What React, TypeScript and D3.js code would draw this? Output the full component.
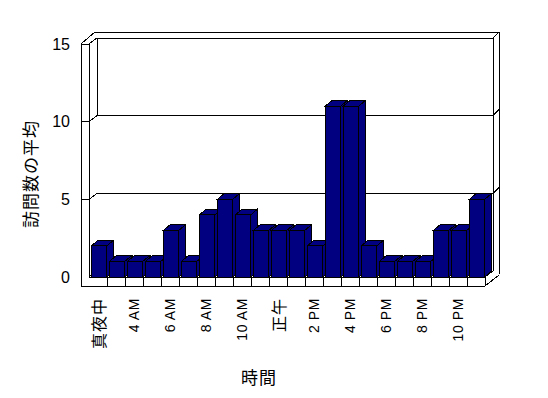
import React from 'react';
import * as d3 from 'd3';

const categories = ['真夜中', '3 AM', '4 AM', '5 AM', '6 AM', '7 AM', '8 AM', '9 AM', '10 AM', '11 AM', '正午', '1 PM', '2 PM', '3 PM', '4 PM', '5 PM', '6 PM', '7 PM', '8 PM', '9 PM', '10 PM', '11 PM'];
const visits = [2, 1, 1, 1, 3, 1, 4, 5, 4, 3, 3, 3, 2, 11, 11, 2, 1, 1, 1, 3, 3, 5];
const yTicks = [0, 5, 10, 15];
const labelEvery = 2;
const yTitle = '訪問数の平均';
const xTitle = '時間';

const W = 548, H = 398;
const FLOOR_L = 89, FLOOR_R = 485;
const DEP = { dx: 8, dy: -6 };     // floor depth (front -> back wall face)
const THK = { dx: 6, dy: -6 };     // back wall thickness
const WALL_W = 8;                  // left wall thickness
const FLOOR_H = 9;
const BAR_DEP = { dx: 6.5, dy: -5.5 };
const NAVY = '#000080';
const LATIN = "'Liberation Sans', 'Noto Sans CJK JP', sans-serif";
const CJK = "'Noto Sans CJK JP', sans-serif";

export default function App() {
  const x = d3.scaleBand<string>().domain(categories).range([FLOOR_L, FLOOR_R]).paddingInner(0).paddingOuter(0);
  const y = d3.scaleLinear().domain([0, 15]).range([277, 44]);
  const bw = x.bandwidth();
  const barL = bw * 0.13;
  const barW = bw * 0.855;

  const yTop = y(15), y0 = y(0);
  const bL = FLOOR_L + DEP.dx, bR = FLOOR_R + DEP.dx; // back wall face
  const wL = FLOOR_L - WALL_W;
  const floorBot = y0 + FLOOR_H;

  const lines: [number, number, number, number][] = [];
  // back wall top & right
  lines.push([bL, yTop + DEP.dy, bR, yTop + DEP.dy]);
  lines.push([bR, yTop + DEP.dy, bR, y0 + DEP.dy]);
  lines.push([wL + DEP.dx + THK.dx, yTop + DEP.dy + THK.dy, bR + THK.dx, yTop + DEP.dy + THK.dy]);
  lines.push([bR, yTop + DEP.dy, bR + THK.dx, yTop + DEP.dy + THK.dy]);
  lines.push([bR + THK.dx, yTop + DEP.dy + THK.dy, bR + THK.dx, floorBot + DEP.dy + THK.dy]);
  // left wall
  lines.push([wL, yTop, wL, floorBot]);
  lines.push([FLOOR_L, yTop, FLOOR_L, y0]);
  lines.push([wL, yTop, FLOOR_L, yTop]);
  lines.push([wL, yTop, wL + DEP.dx + THK.dx, yTop + DEP.dy + THK.dy]);
  lines.push([FLOOR_L, yTop, bL, yTop + DEP.dy]);
  lines.push([bL, yTop + DEP.dy, bL, y(10) + DEP.dy]);
  // gridlines
  yTicks.filter(t => t > 0 && t < 15).forEach(t => {
    const yf = y(t);
    lines.push([wL, yf, FLOOR_L, yf]);
    lines.push([FLOOR_L, yf, bL, yf + DEP.dy]);
    lines.push([bL, yf + DEP.dy, bR, yf + DEP.dy]);
    lines.push([bR, yf + DEP.dy, bR + THK.dx, yf + DEP.dy + THK.dy]);
  });
  // floor
  lines.push([FLOOR_L, y0, bL, y0 + DEP.dy]);
  lines.push([bL, y0 + DEP.dy, bR, y0 + DEP.dy]);
  lines.push([FLOOR_L, y0, FLOOR_R, y0]);
  lines.push([FLOOR_R, y0, bR, y0 + DEP.dy]);
  lines.push([wL, floorBot, FLOOR_R, floorBot]);
  lines.push([FLOOR_R, y0, FLOOR_R, floorBot]);
  lines.push([FLOOR_R, floorBot, bR + THK.dx, floorBot + DEP.dy + THK.dy + 1]);
  categories.forEach((c, i) => {
    if (i > 0) lines.push([x(c)!, y0, x(c)!, floorBot]);
  });

  return (
    <svg width={W} height={H} style={{ position: 'absolute', left: 0, top: 0, background: '#fff' }}>
      <rect x={0} y={0} width={W} height={H} fill="#fff" />
      <g stroke="#000" strokeWidth={1} shapeRendering="crispEdges" fill="none">
        {lines.map((l, i) => (
          <line key={i} x1={l[0]} y1={l[1]} x2={l[2]} y2={l[3]} />
        ))}
      </g>
      <g stroke="#000" strokeWidth={1} fill={NAVY} shapeRendering="crispEdges">
        {categories.map((c, i) => {
          const v = visits[i];
          const fx = x(c)! + barL;
          const fy = y(v);
          const by = y(0);
          const side = [[fx + barW, fy], [fx + barW + BAR_DEP.dx, fy + BAR_DEP.dy], [fx + barW + BAR_DEP.dx, by + BAR_DEP.dy], [fx + barW, by]];
          const top = [[fx, fy], [fx + BAR_DEP.dx, fy + BAR_DEP.dy], [fx + barW + BAR_DEP.dx, fy + BAR_DEP.dy], [fx + barW, fy]];
          return (
            <g key={c}>
              <polygon points={side.map(p => p.join(',')).join(' ')} />
              <polygon points={top.map(p => p.join(',')).join(' ')} />
              <rect x={fx} y={fy} width={barW} height={by - fy} />
            </g>
          );
        })}
      </g>
      <g fontFamily={LATIN} fontSize={16} fill="#000">
        {yTicks.map(t => (
          <text key={t} x={70} y={y(t)} textAnchor="end" dominantBaseline="central">{t}</text>
        ))}
      </g>
      <g fill="#000">
        {categories.map((c, i) => {
          if (i % labelEvery !== 0) return null;
          const cx = x(c)! + bw / 2;
          const isCjk = /[^\x00-\x7F]/.test(c);
          return (
            <text key={c} transform={`translate(${cx},298) rotate(-90)`} textAnchor="end" dominantBaseline="central"
              fontFamily={isCjk ? CJK : LATIN} fontSize={isCjk ? 16 : 14} letterSpacing={isCjk ? 1 : 0.6}>
              {c}
            </text>
          );
        })}
      </g>
      <text transform="translate(29,174) rotate(-90)" textAnchor="middle" dominantBaseline="central" fontFamily={CJK} fontSize={17} letterSpacing={1}>{yTitle}</text>
      <text x={259} y={376} textAnchor="middle" dominantBaseline="central" fontFamily={CJK} fontSize={17} letterSpacing={1}>{xTitle}</text>
    </svg>
  );
}
